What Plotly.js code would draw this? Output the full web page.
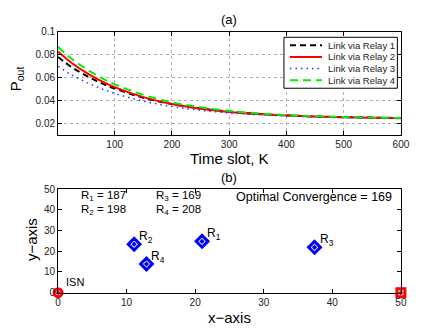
<!DOCTYPE html>
<html>
<head>
<meta charset="utf-8">
<script src="https://cdn.plot.ly/plotly-3.0.1.min.js"></script>
<style>html,body{margin:0;padding:0;background:#fff}#plot{width:443px;height:333px}</style>
</head>
<body>
<div id="plot"></div>
<script>
var K = [1, 25, 50, 75, 100, 150, 200, 250, 300, 350, 400, 450, 500, 550, 600];
var relay1 = [0.0780, 0.0692, 0.0618, 0.0556, 0.0505, 0.0425, 0.0370, 0.0331, 0.0304, 0.0284, 0.0271, 0.0261, 0.0255, 0.0251, 0.0247];
var relay2 = [0.0830, 0.0729, 0.0645, 0.0575, 0.0517, 0.0430, 0.0370, 0.0329, 0.0301, 0.0282, 0.0269, 0.0260, 0.0254, 0.0249, 0.0246];
var relay3 = [0.0700, 0.0624, 0.0560, 0.0507, 0.0463, 0.0395, 0.0348, 0.0315, 0.0292, 0.0276, 0.0266, 0.0258, 0.0253, 0.0249, 0.0246];
var relay4 = [0.0870, 0.0764, 0.0677, 0.0603, 0.0542, 0.0450, 0.0385, 0.0341, 0.0310, 0.0288, 0.0273, 0.0263, 0.0256, 0.0251, 0.0248];
var linkNames = ['Link via Relay 1', 'Link via Relay 2', 'Link via Relay 3', 'Link via Relay 4'];

// node positions in panel (b)
var relayNames = ['R<sub>1</sub>', 'R<sub>2</sub>', 'R<sub>3</sub>', 'R<sub>4</sub>'];
var relayX = [21.0, 11.1, 37.4, 12.9];
var relayY = [24.8, 23.4, 21.9, 13.9];
var convergence = [187, 198, 169, 208];
var optimal = 169;

var font = 'Liberation Sans, Arial, sans-serif';
var lineStyles = [
  {color: 'black', width: 2, dash: '6px,4px'},
  {color: 'red', width: 2, dash: 'solid'},
  {color: '#3333ff', width: 1.5, dash: '1.5px,4px'},
  {color: '#00ee00', width: 2, dash: '8px,5px'}
];
var curves = [relay1, relay2, relay3, relay4];

var data = [];
curves.forEach(function (c, i) {
  data.push({x: K, y: c, name: linkNames[i], mode: 'lines',
    line: Object.assign({shape: 'spline'}, lineStyles[i])});
});
data.push({x: relayX, y: relayY, xaxis: 'x2', yaxis: 'y2', mode: 'markers', cliponaxis: false,
  marker: {symbol: 'diamond-open-dot', size: 9, color: 'blue', line: {width: 3, color: 'blue'}}});
data.push({x: [0], y: [0], xaxis: 'x2', yaxis: 'y2', mode: 'markers', cliponaxis: false,
  marker: {symbol: 'circle-open-dot', size: 8, color: 'red', line: {width: 3, color: 'red'}}});
data.push({x: [50], y: [0], xaxis: 'x2', yaxis: 'y2', mode: 'markers', cliponaxis: false,
  marker: {symbol: 'square-open-dot', size: 8, color: 'red', line: {width: 3, color: 'red'}}});

var axisBase = {
  showline: true, mirror: 'ticks', linecolor: 'black', linewidth: 1,
  ticks: 'inside', ticklen: 4, tickcolor: 'black', zeroline: false,
  tickfont: {family: font, size: 10, color: '#222'}, automargin: false
};

var annotations = [];
var shapes = [];
function paperText(x, y, text, size, angle) {
  annotations.push({xref: 'paper', yref: 'paper', x: x, y: y, text: text, textangle: angle || 0,
    showarrow: false, xanchor: 'center', yanchor: 'middle', font: {family: font, size: size, color: 'black'}});
}
for (var i = 0; i < relayNames.length; i++) {
  annotations.push({xref: 'x2', yref: 'y2', x: relayX[i], y: relayY[i], text: relayNames[i],
    showarrow: false, xanchor: 'left', yanchor: 'bottom', xshift: 3, yshift: -3,
    font: {family: font, size: 12, color: 'black'}});
}
var colX = [3.0, 14.0];
var rowY = [46.9, 40.1];
for (var j = 0; j < convergence.length; j++) {
  annotations.push({xref: 'x2', yref: 'y2', x: colX[Math.floor(j / 2)], y: rowY[j % 2],
    text: 'R<sub>' + (j + 1) + '</sub> = ' + convergence[j], showarrow: false, xanchor: 'left',
    font: {family: font, size: 11.5, color: 'black'}});
}
annotations.push({xref: 'x2', yref: 'y2', x: 49.0, y: 46.0, text: 'Optimal Convergence = ' + optimal,
  showarrow: false, xanchor: 'right', font: {family: font, size: 12.5, color: 'black'}});
annotations.push({xref: 'x2', yref: 'y2', x: 0.8, y: 1.5, text: 'ISN', showarrow: false,
  xanchor: 'left', yanchor: 'bottom', font: {family: font, size: 11, color: 'black'}});
annotations.push({xref: 'x2', yref: 'y2', x: 50.8, y: 1.5, text: 'SFN', showarrow: false,
  xanchor: 'left', yanchor: 'bottom', font: {family: font, size: 11, color: 'black'}});

// panel titles and axis titles
paperText(0.518, 0.94, '(a)', 13);
paperText(0.518, 0.468, '(b)', 13);
paperText(0.518, 0.5255, 'Time slot, K', 15);
paperText(0.518, 0.048, 'x\u2212axis', 15);
paperText(16 / 443, 0.765, 'P<sub>out</sub>', 15, -90);
paperText(31 / 443, 0.279, 'y\u2212axis', 15, -90);

// compact legend box, MATLAB style
shapes.push({type: 'rect', xref: 'paper', yref: 'paper', x0: 0.641, x1: 0.897, y0: 0.735, y1: 0.888,
  fillcolor: 'white', line: {color: 'black', width: 1}, layer: 'above'});
var legRows = [0.864, 0.829, 0.794, 0.759];
for (var k = 0; k < linkNames.length; k++) {
  shapes.push({type: 'line', xref: 'paper', yref: 'paper', x0: 0.6546, x1: 0.7269,
    y0: legRows[k], y1: legRows[k], layer: 'above', line: lineStyles[k]});
  annotations.push({xref: 'paper', yref: 'paper', x: 0.737, y: legRows[k], text: linkNames[k],
    showarrow: false, xanchor: 'left', yanchor: 'middle', font: {family: font, size: 9.5, color: '#222'}});
}

var layout = {
  width: 443, height: 333,
  margin: {l: 0, r: 0, t: 0, b: 0},
  paper_bgcolor: 'white', plot_bgcolor: 'white',
  font: {family: font, color: 'black'},
  showlegend: false,
  xaxis: Object.assign({}, axisBase, {domain: [0.131, 0.905], range: [1, 600], dtick: 100, tick0: 0,
    showgrid: true, gridcolor: '#b0b0b0', griddash: 'dot', anchor: 'y'}),
  yaxis: Object.assign({}, axisBase, {domain: [0.595, 0.904], range: [0.01, 0.1], dtick: 0.02, tick0: 0,
    showgrid: true, gridcolor: '#b0b0b0', griddash: 'dot', anchor: 'x'}),
  xaxis2: Object.assign({}, axisBase, {domain: [0.131, 0.905], range: [0, 50], dtick: 10, anchor: 'y2',
    showgrid: false}),
  yaxis2: Object.assign({}, axisBase, {domain: [0.121, 0.432], range: [0, 50], dtick: 10, anchor: 'x2',
    showgrid: false}),
  annotations: annotations,
  shapes: shapes
};

Plotly.newPlot('plot', data, layout, {staticPlot: true});
</script>
</body>
</html>
